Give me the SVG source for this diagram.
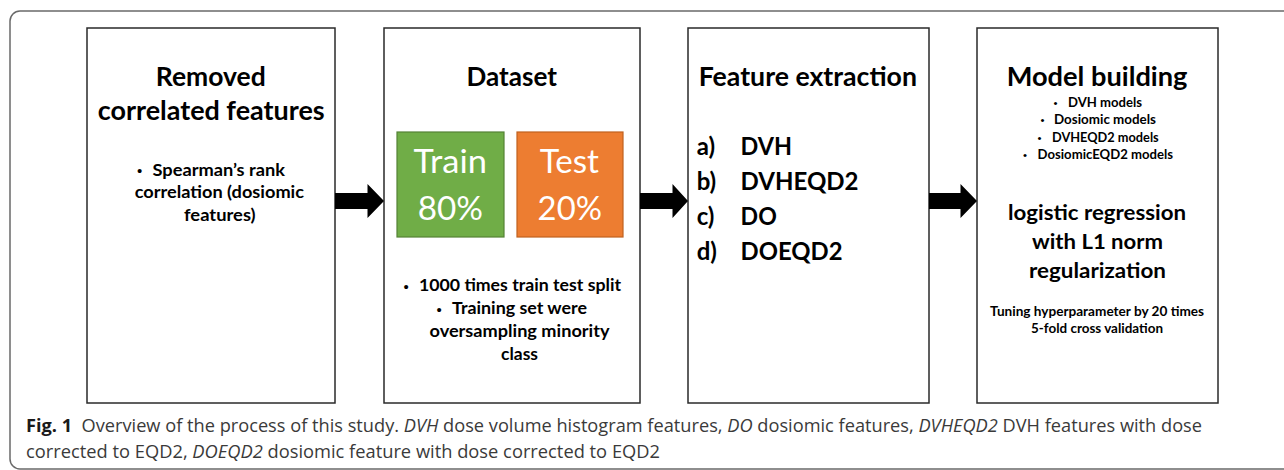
<svg xmlns="http://www.w3.org/2000/svg" width="1284" height="470" viewBox="0 0 1284 470">
<style>
.frame{fill:none;stroke:#6a6a6a;stroke-width:1.5}
.box{fill:#fff;stroke:#2a2a2a;stroke-width:1.5}
.t{font-family:Lato,"Open Sans","Liberation Sans",sans-serif;fill:#000}
.title{font-size:27px;font-weight:bold}
.bul{font-size:17px;font-weight:bold}
.dot{font-family:"Liberation Sans",Arial,sans-serif;font-size:15px;fill:#000}
.dots{font-family:"Liberation Sans",Arial,sans-serif;font-size:11.5px;fill:#000}
.pct{font-size:32px;fill:#fff}
.feat{font-size:24px;font-weight:bold}
.small{font-size:12.5px;font-weight:bold}
.lr{font-size:21px;font-weight:bold}
.tune{font-size:13px;font-weight:bold}
.cap{font-family:"Open Sans","Noto Sans","Liberation Sans",sans-serif;font-size:17.5px;fill:#3a3a3a}
.arrow{fill:#000}
</style>
<rect class="frame" x="10" y="11" width="1300" height="458" rx="10" ry="10"/>

<g id="node-removed">
<rect class="box" x="87" y="28" width="248" height="375"/>
<text class="t title" x="155.8" y="86" textLength="110" lengthAdjust="spacingAndGlyphs">Removed</text>
<text class="t title" x="97.7" y="119.5" textLength="227" lengthAdjust="spacingAndGlyphs">correlated features</text>
<text class="dot" x="137" y="176.2">•</text>
<text class="t bul" x="152.5" y="175.7" textLength="132.5" lengthAdjust="spacingAndGlyphs">Spearman’s rank</text>
<text class="t bul" x="134.7" y="198.3" textLength="169.3" lengthAdjust="spacingAndGlyphs">correlation (dosiomic</text>
<text class="t bul" x="184" y="221" textLength="71.6" lengthAdjust="spacingAndGlyphs">features)</text>
</g>

<g id="node-dataset">
<rect class="box" x="384" y="28" width="256" height="375"/>
<text class="t title" x="466.5" y="86" textLength="90.5" lengthAdjust="spacingAndGlyphs">Dataset</text>
<g id="node-train">
<rect x="397" y="132" width="107" height="105" fill="#70AD47" stroke="#548235" stroke-width="1.2"/>
<text class="t pct" x="413.5" y="173" textLength="73.5" lengthAdjust="spacingAndGlyphs">Train</text>
<text class="t pct" x="417.7" y="220" textLength="65.3" lengthAdjust="spacingAndGlyphs">80%</text>
</g>
<g id="node-test">
<rect x="517" y="132" width="106" height="105" fill="#ED7D31" stroke="#C0611F" stroke-width="1.2"/>
<text class="t pct" x="539.7" y="173" textLength="59.3" lengthAdjust="spacingAndGlyphs">Test</text>
<text class="t pct" x="537.6" y="220" textLength="64.4" lengthAdjust="spacingAndGlyphs">20%</text>
</g>
<text class="dot" x="403.5" y="291.5">•</text>
<text class="t bul" x="419" y="291" textLength="202" lengthAdjust="spacingAndGlyphs">1000 times train test split</text>
<text class="dot" x="436.5" y="314.5">•</text>
<text class="t bul" x="452" y="314" textLength="135" lengthAdjust="spacingAndGlyphs">Training set were</text>
<text class="t bul" x="429.5" y="336.5" textLength="180" lengthAdjust="spacingAndGlyphs">oversampling minority</text>
<text class="t bul" x="501" y="359.5" textLength="37" lengthAdjust="spacingAndGlyphs">class</text>
</g>

<g id="node-feature">
<rect class="box" x="688" y="28" width="241" height="375"/>
<text class="t title" x="698.7" y="86" textLength="218.3" lengthAdjust="spacingAndGlyphs">Feature extraction</text>
<text class="t feat" x="696.7" y="155">a)</text>
<text class="t feat" x="740.6" y="155" textLength="51.4" lengthAdjust="spacingAndGlyphs">DVH</text>
<text class="t feat" x="696.7" y="190">b)</text>
<text class="t feat" x="740.6" y="190" textLength="117.9" lengthAdjust="spacingAndGlyphs">DVHEQD2</text>
<text class="t feat" x="696.7" y="225">c)</text>
<text class="t feat" x="740.6" y="225" textLength="36.2" lengthAdjust="spacingAndGlyphs">DO</text>
<text class="t feat" x="696.7" y="260">d)</text>
<text class="t feat" x="740.6" y="260" textLength="101.9" lengthAdjust="spacingAndGlyphs">DOEQD2</text>
</g>

<g id="node-model">
<rect class="box" x="977" y="28" width="241" height="375"/>
<text class="t title" x="1006.7" y="86" textLength="180.8" lengthAdjust="spacingAndGlyphs">Model building</text>
<text class="dots" x="1053.5" y="107.3">•</text>
<text class="t small" x="1068" y="107" textLength="74" lengthAdjust="spacingAndGlyphs">DVH models</text>
<text class="dots" x="1040.5" y="124.3">•</text>
<text class="t small" x="1054" y="124" textLength="102" lengthAdjust="spacingAndGlyphs">Dosiomic models</text>
<text class="dots" x="1037.5" y="142">•</text>
<text class="t small" x="1052" y="141.7" textLength="106.7" lengthAdjust="spacingAndGlyphs">DVHEQD2 models</text>
<text class="dots" x="1023" y="159.3">•</text>
<text class="t small" x="1037.6" y="159" textLength="135.4" lengthAdjust="spacingAndGlyphs">DosiomicEQD2 models</text>
<text class="t lr" x="1008" y="220" textLength="178" lengthAdjust="spacingAndGlyphs">logistic regression</text>
<text class="t lr" x="1032" y="249" textLength="131" lengthAdjust="spacingAndGlyphs">with L1 norm</text>
<text class="t lr" x="1029" y="278" textLength="137" lengthAdjust="spacingAndGlyphs">regularization</text>
<text class="t tune" x="990" y="316" textLength="214" lengthAdjust="spacingAndGlyphs">Tuning hyperparameter by 20 times</text>
<text class="t tune" x="1031" y="333" textLength="132" lengthAdjust="spacingAndGlyphs">5-fold cross validation</text>
</g>

<g id="connectors">
<polygon class="arrow" points="335,193 367.5,193 367.5,184 384,201 367.5,218 367.5,209 335,209"/>
<polygon class="arrow" points="640,193 672.5,193 672.5,184 688,201 672.5,218 672.5,209 640,209"/>
<polygon class="arrow" points="929,193 960.5,193 960.5,184 977,201 960.5,218 960.5,209 929,209"/>
</g>

<g id="caption">
<text class="cap" x="26" y="432" textLength="1176" lengthAdjust="spacingAndGlyphs"><tspan font-weight="bold" fill="#1a1a1a">Fig. 1</tspan><tspan dx="9">Overview of the process of this study. </tspan><tspan font-style="italic">DVH</tspan> dose volume histogram features, <tspan font-style="italic">DO</tspan> dosiomic features, <tspan font-style="italic">DVHEQD2</tspan> DVH features with dose</text>
<text class="cap" x="26" y="458" textLength="634" lengthAdjust="spacingAndGlyphs">corrected to EQD2, <tspan font-style="italic">DOEQD2</tspan> dosiomic feature with dose corrected to EQD2</text>
</g>
</svg>
